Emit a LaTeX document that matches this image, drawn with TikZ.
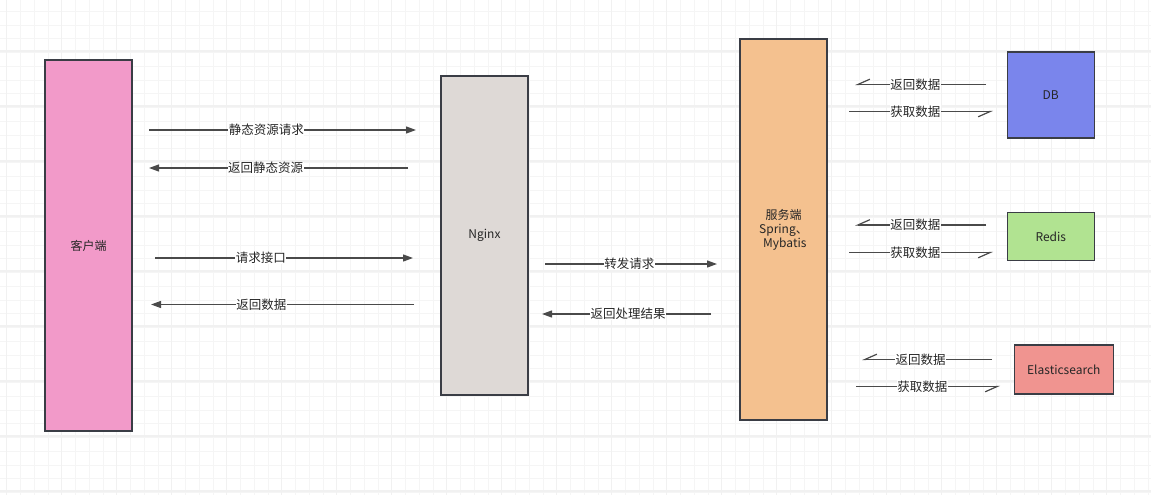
\documentclass[tikz,border=0pt]{standalone}
\usepackage{fontspec}
\setmainfont{Noto Sans CJK SC}
\usetikzlibrary{arrows.meta}
\definecolor{gthin}{HTML}{F5F5F5}
\definecolor{gthick}{HTML}{F1F1F1}
\definecolor{bord}{HTML}{3A3D45}
\definecolor{lin}{HTML}{4A4A4A}
\definecolor{cpink}{HTML}{F29AC9}
\definecolor{cgray}{HTML}{DED9D6}
\definecolor{corange}{HTML}{F4C18F}
\definecolor{cblue}{HTML}{7A85EC}
\definecolor{cgreen}{HTML}{B1E391}
\definecolor{cred}{HTML}{F09490}
\tikzset{
  box/.style={draw=bord, line width=1.2pt, inner sep=0pt, font=\fontsize{12}{14}\selectfont, text=black!85},
  conn/.style={draw=lin, line width=1.2pt, -{Triangle[length=10pt,width=7pt]}},
  half/.style={draw=lin, line width=1.2pt, -{Straight Barb[right,length=12pt,width=10.6pt]}},
  lbl/.style={fill=white, inner sep=0.5pt, font=\fontsize{12.5}{12.5}\selectfont, text=black!85}
}
\begin{document}
\begin{tikzpicture}[x=1pt,y=-1pt]
\useasboundingbox (0,0) rectangle (1151,495);
\fill[white] (0,0) rectangle (1151,495);
% grid
\foreach \i in {0,...,83} \draw[gthin, line width=0.9pt] ({6.7+13.75*\i},0) -- ({6.7+13.75*\i},495);
\foreach \i in {0,...,36} \draw[gthin, line width=0.9pt] (0,{-2.5+13.75*\i}) -- (1151,{-2.5+13.75*\i});
\foreach \i in {0,...,20} \draw[gthick, line width=1.1pt] ({6.7+55*\i},0) -- ({6.7+55*\i},495);
\foreach \i in {0,...,9} \draw[gthick, line width=1.1pt] (0,{-4+55*\i}) -- (1151,{-4+55*\i});
% boxes
\node[box, fill=cpink, minimum width=87pt, minimum height=371pt] (client) at (88.5,245.5) {客户端};
\node[box, fill=cgray, minimum width=87pt, minimum height=319pt] (nginx) at (484.5,235.5) {Nginx};
\node[box, fill=corange, minimum width=87pt, minimum height=381pt, align=center] (server) at (783.5,229.5) {服务端\\Spring、\\\ Mybatis};
\node[box, fill=cblue, minimum width=87pt, minimum height=86pt] (db) at (1050.8,95) {DB};
\node[box, fill=cgreen, minimum width=87pt, minimum height=48.5pt] (redis) at (1050.8,236.5) {Redis};
\node[box, fill=cred, minimum width=99pt, minimum height=49pt] (es) at (1063.8,369.5) {Elasticsearch};
% connector endpoints
\coordinate (a1s) at (149,130); \coordinate (a1e) at (416,130);
\coordinate (a2s) at (408,168); \coordinate (a2e) at (149,168);
\coordinate (a3s) at (155,258); \coordinate (a3e) at (413,258);
\coordinate (a4s) at (414,304.5); \coordinate (a4e) at (151,304.5);
\coordinate (a5s) at (545,264); \coordinate (a5e) at (717,264);
\coordinate (a6s) at (711,314); \coordinate (a6e) at (542,314);
\coordinate (d1s) at (986,84.5); \coordinate (d1e) at (855,84.5);
\coordinate (d2s) at (849,111.5); \coordinate (d2e) at (993,111.5);
\coordinate (r1s) at (986,225); \coordinate (r1e) at (855,225);
\coordinate (r2s) at (849,252.5); \coordinate (r2e) at (993,252.5);
\coordinate (e1s) at (992,359.5); \coordinate (e1e) at (862,359.5);
\coordinate (e2s) at (856,386.5); \coordinate (e2e) at (1000,386.5);
% connectors
\draw[conn] (a1s) -- node[lbl, pos=0.44] {静态资源请求} (a1e);
\draw[conn] (a2s) -- node[lbl, pos=0.55] {返回静态资源} (a2e);
\draw[conn] (a3s) -- node[lbl, pos=0.41] {请求接口} (a3e);
\draw[conn] (a4s) -- node[lbl, pos=0.58] {返回数据} (a4e);
\draw[conn] (a5s) -- node[lbl, pos=0.49] {转发请求} (a5e);
\draw[conn] (a6s) -- node[lbl, pos=0.49] {返回处理结果} (a6e);
\draw[half] (d1s) -- node[lbl, pos=0.54] {返回数据} (d1e);
\draw[half] (d2s) -- node[lbl, pos=0.46] {获取数据} (d2e);
\draw[half] (r1s) -- node[lbl, pos=0.54] {返回数据} (r1e);
\draw[half] (r2s) -- node[lbl, pos=0.46] {获取数据} (r2e);
\draw[half] (e1s) -- node[lbl, pos=0.55] {返回数据} (e1e);
\draw[half] (e2s) -- node[lbl, pos=0.46] {获取数据} (e2e);
\end{tikzpicture}
\end{document}
